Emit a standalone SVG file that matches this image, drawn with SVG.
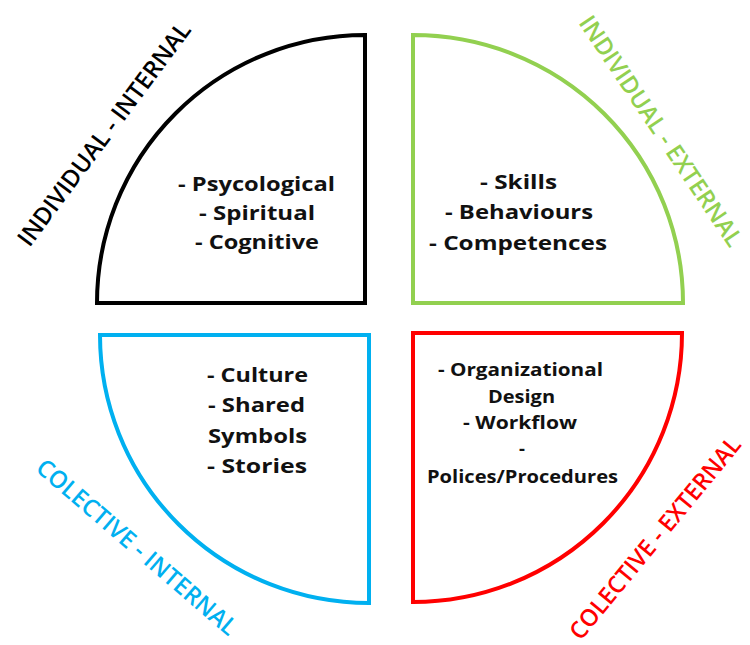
<svg xmlns="http://www.w3.org/2000/svg" width="750" height="645" viewBox="0 0 750 645">
  <style>
    .quad { fill: #ffffff; stroke-width: 4; stroke-linejoin: miter; }
    .body { font-family: "Open Sans", "Liberation Sans", sans-serif; font-weight: 700; font-size: 20px; fill: #111111; }
    .body-sm { font-size: 18.5px; }
    .axis { font-family: "Open Sans", "Liberation Sans", sans-serif; font-weight: 600; font-size: 24px; text-anchor: middle; }
  </style>
  <rect width="750" height="645" fill="#ffffff"/>

  <!-- Individual / internal quadrant -->
  <g id="individual-internal">
    <path class="quad" stroke="#000000" d="M 365 35 L 365 303 L 97 303 A 268 268 0 0 1 365 35 Z"/>
    <text class="body" x="178" y="191" textLength="157" lengthAdjust="spacingAndGlyphs">- Psycological</text>
    <text class="body" x="199" y="220" textLength="116" lengthAdjust="spacingAndGlyphs">- Spiritual</text>
    <text class="body" x="195" y="249" textLength="124" lengthAdjust="spacingAndGlyphs">- Cognitive</text>
    <text class="axis" fill="#000000" transform="translate(104,134) rotate(-53.3)" x="0" y="8.5" textLength="272" lengthAdjust="spacingAndGlyphs">INDIVIDUAL - INTERNAL</text>
  </g>

  <!-- Individual / external quadrant -->
  <g id="individual-external">
    <path class="quad" stroke="#92D050" d="M 413 35 L 413 303 L 683 303 A 270 268 0 0 0 413 35 Z"/>
    <text class="body" x="480" y="189" textLength="77" lengthAdjust="spacingAndGlyphs">- Skills</text>
    <text class="body" x="445" y="219" textLength="148" lengthAdjust="spacingAndGlyphs">- Behaviours</text>
    <text class="body" x="429" y="250" textLength="178" lengthAdjust="spacingAndGlyphs">- Competences</text>
    <text class="axis" fill="#92D050" transform="translate(661,131) rotate(56.1)" x="0" y="8.5" textLength="272" lengthAdjust="spacingAndGlyphs">INDIVIDUAL - EXTERNAL</text>
  </g>

  <!-- Collective / internal quadrant -->
  <g id="collective-internal">
    <path class="quad" stroke="#00B0F0" d="M 100 335 L 369 335 L 369 603 A 269 268 0 0 1 100 335 Z"/>
    <text class="body" x="207" y="382" textLength="101" lengthAdjust="spacingAndGlyphs">- Culture</text>
    <text class="body" x="208" y="412" textLength="97" lengthAdjust="spacingAndGlyphs">- Shared</text>
    <text class="body" x="208" y="443" textLength="99" lengthAdjust="spacingAndGlyphs">Symbols</text>
    <text class="body" x="207" y="473" textLength="100" lengthAdjust="spacingAndGlyphs">- Stories</text>
    <text class="axis" fill="#00B0F0" transform="translate(137,547) rotate(40.7)" x="0" y="8.5" textLength="256" lengthAdjust="spacingAndGlyphs">COLECTIVE - INTERNAL</text>
  </g>

  <!-- Collective / external quadrant -->
  <g id="collective-external">
    <path class="quad" stroke="#FF0000" d="M 413 333 L 682 333 A 269 269 0 0 1 413 602 Z"/>
    <text class="body body-sm" x="438" y="376" textLength="165" lengthAdjust="spacingAndGlyphs">- Organizational</text>
    <text class="body body-sm" x="488" y="403" textLength="67" lengthAdjust="spacingAndGlyphs">Design</text>
    <text class="body body-sm" x="463" y="429" textLength="114" lengthAdjust="spacingAndGlyphs">- Workflow</text>
    <text class="body body-sm" x="522" y="455" text-anchor="middle">-</text>
    <text class="body body-sm" x="427" y="483" textLength="191" lengthAdjust="spacingAndGlyphs">Polices/Procedures</text>
    <text class="axis" fill="#FF0000" transform="translate(655,538) rotate(-50.5)" x="0" y="8.5" textLength="254" lengthAdjust="spacingAndGlyphs">COLECTIVE - EXTERNAL</text>
  </g>

  <!-- no connectors in this figure -->
  <g id="connectors"/>
</svg>
